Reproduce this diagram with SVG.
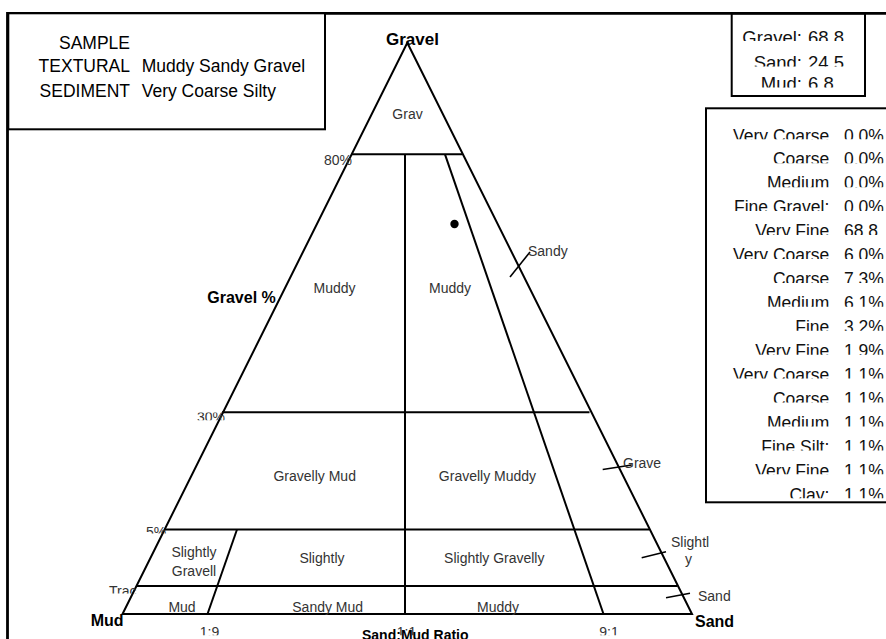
<svg xmlns="http://www.w3.org/2000/svg" width="886" height="639" viewBox="0 0 886 639">
  <style>
    .ln { stroke: #000; stroke-width: 2; fill: none; }
    .tick { stroke: #000; stroke-width: 1.6; fill: none; }
    .box { stroke: #000; stroke-width: 2; fill: #fff; }
    .reg { font-family: "Liberation Sans", Arial, sans-serif; font-size: 14px; fill: #333; text-anchor: middle; }
    .ax { font-family: "Liberation Sans", Arial, sans-serif; font-size: 14px; fill: #333; }
    .corner { font-family: "Liberation Sans", Arial, sans-serif; font-weight: bold; fill: #000; }
    .info { font-family: "Liberation Sans", Arial, sans-serif; font-size: 17.5px; fill: #000; }
    .tab { font-family: "Liberation Sans", Arial, sans-serif; font-size: 17.5px; fill: #111; }
    .sum { font-family: "Liberation Sans", Arial, sans-serif; font-size: 18.5px; fill: #111; }
    .end { text-anchor: end; }
  </style>
  <defs>
    <!-- text boxes that are too small for their font: only a band of each line shows -->
    <clipPath id="clip-ax">
      <rect x="190" y="412.5" width="40" height="7.8"/>
      <rect x="140" y="526.7" width="30" height="6.8"/>
      <rect x="105" y="585.3" width="40" height="8.2"/>
      <rect x="195" y="627" width="30" height="8.2"/>
      <rect x="395" y="627" width="25" height="8.2"/>
      <rect x="595" y="627" width="30" height="8.2"/>
    </clipPath>
    <clipPath id="clip-sum">
      <rect x="732" y="30.5" width="133" height="10.5"/>
      <rect x="732" y="55" width="133" height="11.5"/>
      <rect x="732" y="76" width="133" height="11.5"/>
    </clipPath>
    <clipPath id="clip-tab">
      <rect x="707" y="128" width="180" height="11.3"/>
      <rect x="707" y="151.9" width="180" height="11.3"/>
      <rect x="707" y="175.9" width="180" height="11.3"/>
      <rect x="707" y="199.8" width="180" height="11.3"/>
      <rect x="707" y="223.7" width="180" height="11.3"/>
      <rect x="707" y="247.7" width="180" height="11.3"/>
      <rect x="707" y="271.6" width="180" height="11.3"/>
      <rect x="707" y="295.5" width="180" height="11.3"/>
      <rect x="707" y="319.4" width="180" height="11.3"/>
      <rect x="707" y="343.4" width="180" height="11.3"/>
      <rect x="707" y="367.3" width="180" height="11.3"/>
      <rect x="707" y="391.2" width="180" height="11.3"/>
      <rect x="707" y="415.2" width="180" height="11.3"/>
      <rect x="707" y="439.1" width="180" height="11.3"/>
      <rect x="707" y="463" width="180" height="11.3"/>
      <rect x="707" y="487" width="180" height="11.3"/>
    </clipPath>
  </defs>

  <rect width="886" height="639" fill="#fff"/>

  <!-- outer chart frame (runs off the right and bottom edges) -->
  <path id="frame" d="M7.5 640 V13.3 H890" fill="none" stroke="#000" stroke-width="2.8"/>

  <!-- sample description -->
  <g id="sample-box">
    <rect class="box" x="8.3" y="13.3" width="316.7" height="116" stroke-width="2.5"/>
    <text class="info end" x="130" y="49.3">SAMPLE</text>
    <text class="info end" x="130" y="71.7">TEXTURAL</text>
    <text class="info end" x="130" y="96.7">SEDIMENT</text>
    <text class="info" x="141.7" y="71.7">Muddy Sandy Gravel</text>
    <text class="info" x="141.7" y="96.7">Very Coarse Silty</text>
  </g>

  <!-- gravel / sand / mud totals -->
  <g id="totals-box">
    <rect class="box" x="731.7" y="13.3" width="133.3" height="82.7"/>
    <g clip-path="url(#clip-sum)">
      <text class="sum end" x="802" y="43.5">Gravel:</text>
      <text class="sum" x="808" y="43.5">68.8</text>
      <text class="sum end" x="802" y="69">Sand:</text>
      <text class="sum" x="808" y="69">24.5</text>
      <text class="sum end" x="802" y="90">Mud:</text>
      <text class="sum" x="808" y="90">6.8</text>
    </g>
    <line x1="731.7" y1="13.3" x2="865" y2="13.3" stroke="#000" stroke-width="2.8"/>
  </g>

  <!-- grain size distribution -->
  <g id="size-table">
    <rect class="box" x="706" y="108.3" width="200" height="394"/>
    <g clip-path="url(#clip-tab)">
      <g class="tab end">
        <text x="829.3" y="141.5">Very Coarse</text>
        <text x="829.3" y="165.4">Coarse</text>
        <text x="829.3" y="189.4">Medium</text>
        <text x="829.3" y="213.3">Fine Gravel:</text>
        <text x="829.3" y="237.2">Very Fine</text>
        <text x="829.3" y="261.2">Very Coarse</text>
        <text x="829.3" y="285.1">Coarse</text>
        <text x="829.3" y="309">Medium</text>
        <text x="829.3" y="332.9">Fine</text>
        <text x="829.3" y="356.9">Very Fine</text>
        <text x="829.3" y="380.8">Very Coarse</text>
        <text x="829.3" y="404.7">Coarse</text>
        <text x="829.3" y="428.7">Medium</text>
        <text x="829.3" y="452.6">Fine Silt:</text>
        <text x="829.3" y="476.5">Very Fine</text>
        <text x="829.3" y="500.5">Clay:</text>
      </g>
      <g class="tab">
        <text x="844" y="141.5">0.0%</text>
        <text x="844" y="165.4">0.0%</text>
        <text x="844" y="189.4">0.0%</text>
        <text x="844" y="213.3">0.0%</text>
        <text x="844" y="237.2">68.8</text>
        <text x="844" y="261.2">6.0%</text>
        <text x="844" y="285.1">7.3%</text>
        <text x="844" y="309">6.1%</text>
        <text x="844" y="332.9">3.2%</text>
        <text x="844" y="356.9">1.9%</text>
        <text x="844" y="380.8">1.1%</text>
        <text x="844" y="404.7">1.1%</text>
        <text x="844" y="428.7">1.1%</text>
        <text x="844" y="452.6">1.1%</text>
        <text x="844" y="476.5">1.1%</text>
        <text x="844" y="500.5">1.1%</text>
      </g>
    </g>
  </g>

  <!-- ternary triangle and class boundaries -->
  <g id="connectors">
    <path class="ln" d="M407.3 42.7 L692 614 L122.5 614 Z" stroke-linejoin="miter"/>
    <line class="ln" x1="351.6" y1="154.3" x2="462.2" y2="154.3"/>
    <line class="ln" x1="222" y1="412.3" x2="589.5" y2="412.3"/>
    <line class="ln" x1="164.5" y1="529.5" x2="649.5" y2="529.5"/>
    <line class="ln" x1="136.5" y1="586" x2="677.5" y2="586"/>
    <line class="ln" x1="405" y1="154.3" x2="405" y2="614"/>
    <line class="ln" x1="445" y1="154.3" x2="603.5" y2="614"/>
    <line class="ln" x1="237" y1="529.5" x2="207.5" y2="614"/>
    <!-- tick marks on the gravel-sand edge -->
    <line class="tick" x1="510" y1="277" x2="530" y2="252"/>
    <line class="tick" x1="602.7" y1="469.5" x2="631.7" y2="465"/>
    <line class="tick" x1="641.7" y1="557.7" x2="666" y2="551.7"/>
    <line class="tick" x1="666" y1="597.7" x2="690" y2="593.3"/>
  </g>

  <!-- sample point -->
  <circle id="sample-point" cx="454.5" cy="224" r="4.2" fill="#000"/>

  <!-- textural class labels -->
  <g id="class-labels" class="reg">
    <text x="407.5" y="119">Grav</text>
    <text x="334.5" y="293">Muddy</text>
    <text x="450" y="293">Muddy</text>
    <text x="314.7" y="481">Gravelly Mud</text>
    <text x="487.5" y="481">Gravelly Muddy</text>
    <text x="194" y="557">Slightly</text>
    <text x="194" y="576">Gravell</text>
    <text x="322" y="563">Slightly</text>
    <text x="494.3" y="563">Slightly Gravelly</text>
    <text x="182" y="612">Mud</text>
    <text x="327.7" y="612">Sandy Mud</text>
    <text x="498" y="612">Muddy</text>
  </g>

  <!-- edge labels -->
  <g id="edge-labels" class="ax">
    <text x="528" y="256">Sandy</text>
    <text x="623" y="468">Grave</text>
    <text x="671" y="547">Slightl</text>
    <text x="685" y="564">y</text>
    <text x="698" y="601">Sand</text>
    <text x="324" y="165">80%</text>
  </g>

  <g id="axis-ticks" class="ax" clip-path="url(#clip-ax)">
    <text x="197" y="422.3">30%</text>
    <text x="146" y="536.7">5%</text>
    <text x="109" y="595.5">Trac</text>
    <text x="209.5" y="637" text-anchor="middle">1:9</text>
    <text x="406.5" y="637" text-anchor="middle">1:1</text>
    <text x="609" y="637" text-anchor="middle">9:1</text>
  </g>

  <!-- end members and axis titles -->
  <g id="titles" class="corner">
    <text x="412.5" y="45" font-size="17" text-anchor="middle">Gravel</text>
    <text x="207.3" y="303" font-size="16">Gravel %</text>
    <text x="90.7" y="626" font-size="16">Mud</text>
    <text x="695" y="627" font-size="16">Sand</text>
    <text x="362" y="640" font-size="14">Sand:Mud Ratio</text>
  </g>
</svg>
